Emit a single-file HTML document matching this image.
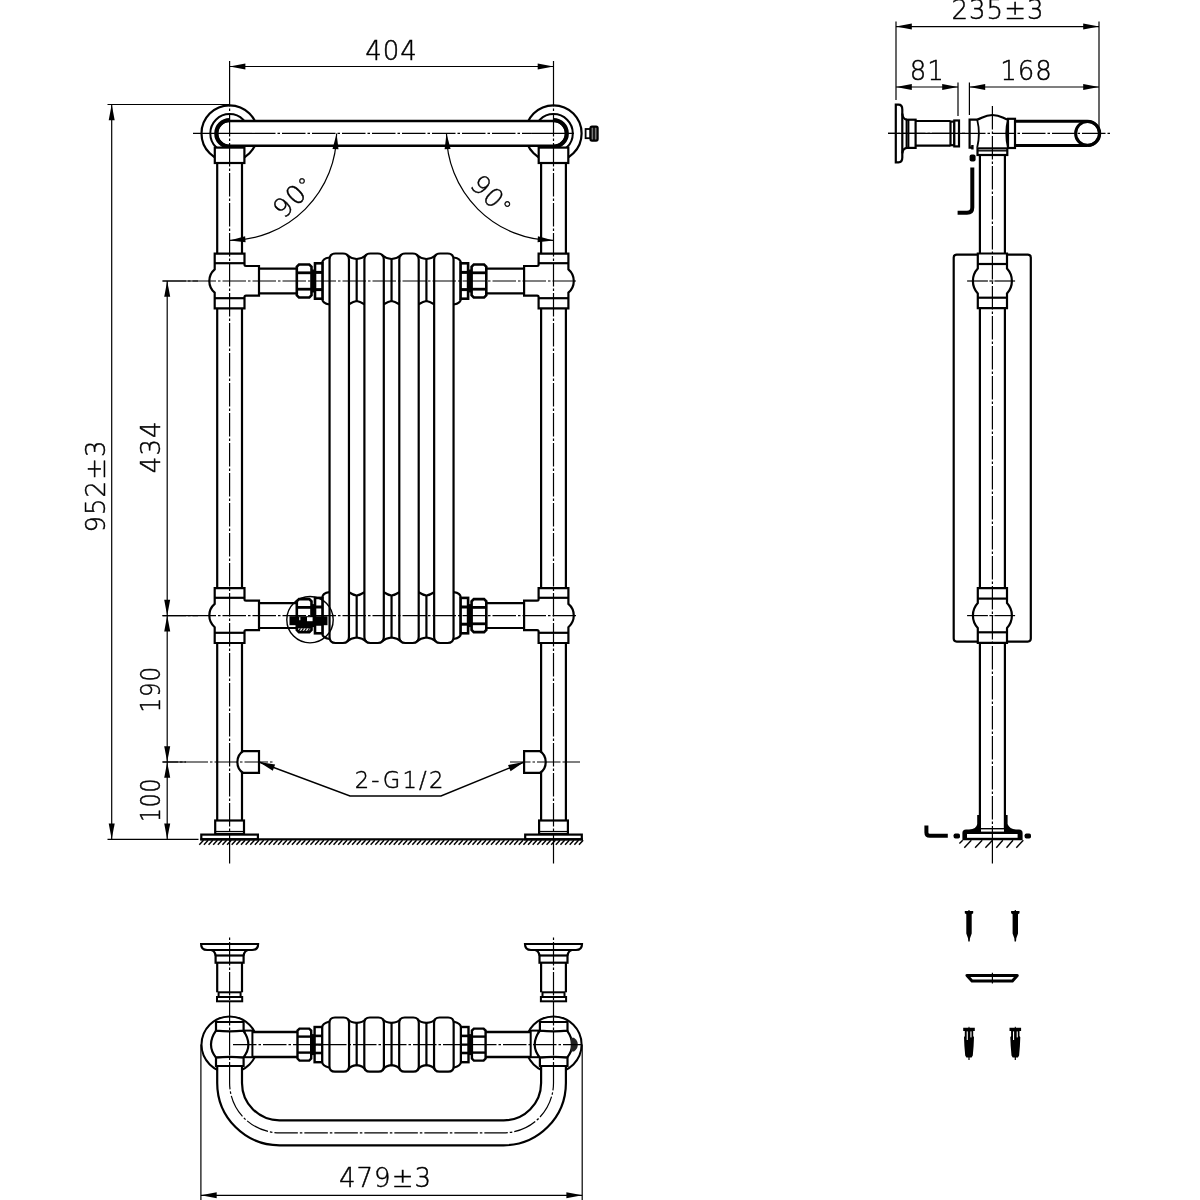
<!DOCTYPE html>
<html lang="en"><head><meta charset="utf-8"><title>Towel radiator technical drawing</title>
<style>
html,body{margin:0;padding:0;background:#fff;}
body{width:1200px;height:1200px;overflow:hidden;}
svg{display:block;will-change:transform;}
svg text{font-family:"DejaVu Sans Light","DejaVu Sans","Liberation Sans",sans-serif;font-weight:200;fill:#000;stroke:#000;stroke-width:0.45px;}
</style></head><body>
<svg width="1200" height="1200" viewBox="0 0 1200 1200" fill="none" stroke="#000" stroke-linecap="butt" stroke-linejoin="miter">
<rect x="0" y="0" width="1200" height="1200" fill="#fff" stroke="none"/>
<circle cx="229.60" cy="133.40" r="28.10" fill="none" stroke-width="2.2" />
<circle cx="229.60" cy="133.40" r="19.30" fill="none" stroke-width="2" />
<circle cx="553.50" cy="133.40" r="28.10" fill="none" stroke-width="2.2" />
<circle cx="553.50" cy="133.40" r="19.30" fill="none" stroke-width="2" />
<path d="M229.6,121.0 L553.5,121.0 A12.4,12.4 0 0 1 553.5,145.8 L229.6,145.8 A12.4,12.4 0 0 1 229.6,121.0 Z" fill="#fff" stroke-width="2.6" />
<path d="M229.6,120.0 A13.4,13.4 0 0 0 229.6,146.8" fill="none" stroke-width="4" />
<path d="M553.5,120.0 A13.4,13.4 0 0 1 553.5,146.8" fill="none" stroke-width="4" />
<rect x="214.80" y="147.60" width="29.60" height="15.40" rx="0" fill="#fff" stroke-width="2.2" />
<line x1="217.20" y1="163.00" x2="217.20" y2="253.60" stroke-width="2.2" />
<line x1="242.00" y1="163.00" x2="242.00" y2="253.60" stroke-width="2.2" />
<line x1="217.20" y1="308.40" x2="217.20" y2="588.20" stroke-width="2.2" />
<line x1="242.00" y1="308.40" x2="242.00" y2="588.20" stroke-width="2.2" />
<line x1="217.20" y1="643.00" x2="217.20" y2="820.50" stroke-width="2.2" />
<line x1="242.00" y1="643.00" x2="242.00" y2="820.50" stroke-width="2.2" />
<path d="M214.7,253.6 L214.7,269.35 A15.3,15.3 0 0 0 214.7,292.65 L214.7,308.4 L244.5,308.4 L244.5,297.0 Q244.5,295.6 246.0,295.6 L259.0,295.6 L259.0,266.0 L246.0,266.0 Q244.5,266.0 244.5,264.6 L244.5,253.6 Z" fill="#fff" stroke-width="2.2" />
<line x1="214.70" y1="263.20" x2="244.50" y2="263.20" stroke-width="2.2" />
<line x1="214.70" y1="298.20" x2="244.50" y2="298.20" stroke-width="2.2" />
<path d="M214.7,588.2 L214.7,603.95 A15.3,15.3 0 0 0 214.7,627.25 L214.7,643.0 L244.5,643.0 L244.5,631.6 Q244.5,630.2 246.0,630.2 L259.0,630.2 L259.0,600.6 L246.0,600.6 Q244.5,600.6 244.5,599.2 L244.5,588.2 Z" fill="#fff" stroke-width="2.2" />
<line x1="214.70" y1="597.80" x2="244.50" y2="597.80" stroke-width="2.2" />
<line x1="214.70" y1="632.80" x2="244.50" y2="632.80" stroke-width="2.2" />
<line x1="259.00" y1="268.60" x2="297.60" y2="268.60" stroke-width="2.2" />
<line x1="259.00" y1="293.40" x2="297.60" y2="293.40" stroke-width="2.2" />
<line x1="259.00" y1="603.20" x2="297.60" y2="603.20" stroke-width="2.2" />
<line x1="259.00" y1="628.00" x2="297.60" y2="628.00" stroke-width="2.2" />
<path d="M259.0,751.2 L243.0,751.2 C235.5,756.0 235.5,768.0 243.0,772.8 L259.0,772.8 Z" fill="#fff" stroke-width="2.2" />
<rect x="215.20" y="820.50" width="28.80" height="13.50" rx="0" fill="#fff" stroke-width="2.2" />
<line x1="215.20" y1="831.50" x2="244.00" y2="831.50" stroke-width="1.2" />
<rect x="201.30" y="834.60" width="56.60" height="4.70" rx="0" fill="#fff" stroke-width="2.2" />
<rect x="538.70" y="147.60" width="29.60" height="15.40" rx="0" fill="#fff" stroke-width="2.2" />
<line x1="541.10" y1="163.00" x2="541.10" y2="253.60" stroke-width="2.2" />
<line x1="565.90" y1="163.00" x2="565.90" y2="253.60" stroke-width="2.2" />
<line x1="541.10" y1="308.40" x2="541.10" y2="588.20" stroke-width="2.2" />
<line x1="565.90" y1="308.40" x2="565.90" y2="588.20" stroke-width="2.2" />
<line x1="541.10" y1="643.00" x2="541.10" y2="820.50" stroke-width="2.2" />
<line x1="565.90" y1="643.00" x2="565.90" y2="820.50" stroke-width="2.2" />
<path d="M568.4,253.6 L568.4,269.35 A15.3,15.3 0 0 1 568.4,292.65 L568.4,308.4 L538.6,308.4 L538.6,297.0 Q538.6,295.6 537.1,295.6 L524.1,295.6 L524.1,266.0 L537.1,266.0 Q538.6,266.0 538.6,264.6 L538.6,253.6 Z" fill="#fff" stroke-width="2.2" />
<line x1="568.40" y1="263.20" x2="538.60" y2="263.20" stroke-width="2.2" />
<line x1="568.40" y1="298.20" x2="538.60" y2="298.20" stroke-width="2.2" />
<path d="M568.4,588.2 L568.4,603.95 A15.3,15.3 0 0 1 568.4,627.25 L568.4,643.0 L538.6,643.0 L538.6,631.6 Q538.6,630.2 537.1,630.2 L524.1,630.2 L524.1,600.6 L537.1,600.6 Q538.6,600.6 538.6,599.2 L538.6,588.2 Z" fill="#fff" stroke-width="2.2" />
<line x1="568.40" y1="597.80" x2="538.60" y2="597.80" stroke-width="2.2" />
<line x1="568.40" y1="632.80" x2="538.60" y2="632.80" stroke-width="2.2" />
<line x1="524.10" y1="268.60" x2="485.50" y2="268.60" stroke-width="2.2" />
<line x1="524.10" y1="293.40" x2="485.50" y2="293.40" stroke-width="2.2" />
<line x1="524.10" y1="603.20" x2="485.50" y2="603.20" stroke-width="2.2" />
<line x1="524.10" y1="628.00" x2="485.50" y2="628.00" stroke-width="2.2" />
<path d="M524.1,751.2 L540.1,751.2 C547.6,756.0 547.6,768.0 540.1,772.8 L524.1,772.8 Z" fill="#fff" stroke-width="2.2" />
<rect x="539.10" y="820.50" width="28.80" height="13.50" rx="0" fill="#fff" stroke-width="2.2" />
<line x1="539.10" y1="831.50" x2="567.90" y2="831.50" stroke-width="1.2" />
<rect x="525.20" y="834.60" width="56.60" height="4.70" rx="0" fill="#fff" stroke-width="2.2" />
<path d="M329.55,257.5 Q322.25,258.5 322.25,263.3 L322.25,298.7 Q322.25,303.5 329.55,304.5" fill="#fff" stroke-width="2.2" />
<path d="M329.55,639.0 Q322.25,638.0 322.25,633.3000000000001 L322.25,597.9 Q322.25,593.1 329.55,592.1" fill="#fff" stroke-width="2.2" />
<path d="M453.55,257.5 Q460.85,258.5 460.85,263.3 L460.85,298.7 Q460.85,303.5 453.55,304.5" fill="#fff" stroke-width="2.2" />
<path d="M453.55,639.0 Q460.85,638.0 460.85,633.3000000000001 L460.85,597.9 Q460.85,593.1 453.55,592.1" fill="#fff" stroke-width="2.2" />
<path d="M346.93,255.0 Q350.93,258.5 356.68,259.0 Q362.43,258.5 366.43,255.0" fill="none" stroke-width="2.2" />
<line x1="356.68" y1="259.00" x2="356.68" y2="301.00" stroke-width="2.2" />
<path d="M348.93,304.3 Q353.68,301.3 356.68,301 Q359.68,301.3 364.43,304.3" fill="none" stroke-width="2.2" />
<path d="M346.93,641.5 Q350.93,638.0 356.68,637.5 Q362.43,638.0 366.43,641.5" fill="none" stroke-width="2.2" />
<line x1="356.68" y1="637.50" x2="356.68" y2="595.50" stroke-width="2.2" />
<path d="M348.93,592.2 Q353.68,595.2 356.68,595.5 Q359.68,595.2 364.43,592.2)" fill="none" stroke-width="2.2" />
<path d="M381.8,255.0 Q385.8,258.5 391.55,259.0 Q397.3,258.5 401.3,255.0" fill="none" stroke-width="2.2" />
<line x1="391.55" y1="259.00" x2="391.55" y2="301.00" stroke-width="2.2" />
<path d="M383.8,304.3 Q388.55,301.3 391.55,301 Q394.55,301.3 399.3,304.3" fill="none" stroke-width="2.2" />
<path d="M381.8,641.5 Q385.8,638.0 391.55,637.5 Q397.3,638.0 401.3,641.5" fill="none" stroke-width="2.2" />
<line x1="391.55" y1="637.50" x2="391.55" y2="595.50" stroke-width="2.2" />
<path d="M383.8,592.2 Q388.55,595.2 391.55,595.5 Q394.55,595.2 399.3,592.2)" fill="none" stroke-width="2.2" />
<path d="M416.67,255.0 Q420.67,258.5 426.42,259.0 Q432.17,258.5 436.17,255.0" fill="none" stroke-width="2.2" />
<line x1="426.42" y1="259.00" x2="426.42" y2="301.00" stroke-width="2.2" />
<path d="M418.67,304.3 Q423.42,301.3 426.42,301 Q429.42,301.3 434.17,304.3" fill="none" stroke-width="2.2" />
<path d="M416.67,641.5 Q420.67,638.0 426.42,637.5 Q432.17,638.0 436.17,641.5" fill="none" stroke-width="2.2" />
<line x1="426.42" y1="637.50" x2="426.42" y2="595.50" stroke-width="2.2" />
<path d="M418.67,592.2 Q423.42,595.2 426.42,595.5 Q429.42,595.2 434.17,592.2)" fill="none" stroke-width="2.2" />
<path d="M329.55,259.5 Q329.55,253.5 335.55,253.5 L342.95,253.5 Q348.95,253.5 348.95,259.5 L348.95,637.0 Q348.95,643.0 342.95,643.0 L335.55,643.0 Q329.55,643.0 329.55,637.0 Z" fill="none" stroke-width="2.2" />
<path d="M364.40000000000003,259.5 Q364.40000000000003,253.5 370.40000000000003,253.5 L377.8,253.5 Q383.8,253.5 383.8,259.5 L383.8,637.0 Q383.8,643.0 377.8,643.0 L370.40000000000003,643.0 Q364.40000000000003,643.0 364.40000000000003,637.0 Z" fill="none" stroke-width="2.2" />
<path d="M399.3,259.5 Q399.3,253.5 405.3,253.5 L412.7,253.5 Q418.7,253.5 418.7,259.5 L418.7,637.0 Q418.7,643.0 412.7,643.0 L405.3,643.0 Q399.3,643.0 399.3,637.0 Z" fill="none" stroke-width="2.2" />
<path d="M434.15000000000003,259.5 Q434.15000000000003,253.5 440.15000000000003,253.5 L447.55,253.5 Q453.55,253.5 453.55,259.5 L453.55,637.0 Q453.55,643.0 447.55,643.0 L440.15000000000003,643.0 Q434.15000000000003,643.0 434.15000000000003,637.0 Z" fill="none" stroke-width="2.2" />
<path d="M299.0,264.5 L309.3,264.5 L311.5,266.7 L311.5,295.3 L309.3,297.5 L299.0,297.5 L296.8,295.3 L296.8,266.7 Z" fill="#fff" stroke-width="2.6" />
<line x1="296.80" y1="272.80" x2="311.50" y2="272.80" stroke-width="2.8" />
<line x1="296.80" y1="289.20" x2="311.50" y2="289.20" stroke-width="2.8" />
<rect x="311.50" y="269.50" width="3.50" height="23" fill="#000" stroke="none"/>
<rect x="315.00" y="263.30" width="7.50" height="35.40" rx="0" fill="#fff" stroke-width="2.6" />
<line x1="315.00" y1="272.40" x2="322.50" y2="272.40" stroke-width="3" />
<line x1="315.00" y1="289.60" x2="322.50" y2="289.60" stroke-width="3" />
<path d="M484.1,264.5 L473.8,264.5 L471.6,266.7 L471.6,295.3 L473.8,297.5 L484.1,297.5 L486.3,295.3 L486.3,266.7 Z" fill="#fff" stroke-width="2.6" />
<line x1="486.30" y1="272.80" x2="471.60" y2="272.80" stroke-width="2.8" />
<line x1="486.30" y1="289.20" x2="471.60" y2="289.20" stroke-width="2.8" />
<rect x="468.10" y="269.50" width="3.50" height="23" fill="#000" stroke="none"/>
<rect x="460.60" y="263.30" width="7.50" height="35.40" rx="0" fill="#fff" stroke-width="2.6" />
<line x1="468.10" y1="272.40" x2="460.60" y2="272.40" stroke-width="3" />
<line x1="468.10" y1="289.60" x2="460.60" y2="289.60" stroke-width="3" />
<path d="M484.1,599.1 L473.8,599.1 L471.6,601.3000000000001 L471.6,629.9 L473.8,632.1 L484.1,632.1 L486.3,629.9 L486.3,601.3000000000001 Z" fill="#fff" stroke-width="2.6" />
<line x1="486.30" y1="607.40" x2="471.60" y2="607.40" stroke-width="2.8" />
<line x1="486.30" y1="623.80" x2="471.60" y2="623.80" stroke-width="2.8" />
<rect x="468.10" y="604.10" width="3.50" height="23" fill="#000" stroke="none"/>
<rect x="460.60" y="597.90" width="7.50" height="35.40" rx="0" fill="#fff" stroke-width="2.6" />
<line x1="468.10" y1="607.00" x2="460.60" y2="607.00" stroke-width="3" />
<line x1="468.10" y1="624.20" x2="460.60" y2="624.20" stroke-width="3" />
<path d="M299.0,599.1 L309.3,599.1 L311.5,601.3000000000001 L311.5,629.9 L309.3,632.1 L299.0,632.1 L296.8,629.9 L296.8,601.3000000000001 Z" fill="#fff" stroke-width="2.6" />
<line x1="296.80" y1="607.40" x2="311.50" y2="607.40" stroke-width="2.8" />
<line x1="296.80" y1="623.80" x2="311.50" y2="623.80" stroke-width="2.8" />
<rect x="311.50" y="604.10" width="3.50" height="23" fill="#000" stroke="none"/>
<rect x="315.00" y="597.90" width="7.50" height="35.40" rx="0" fill="#fff" stroke-width="2.6" />
<line x1="315.00" y1="607.00" x2="322.50" y2="607.00" stroke-width="3" />
<line x1="315.00" y1="624.20" x2="322.50" y2="624.20" stroke-width="3" />
<rect x="289.5" y="616.2" width="38" height="9" fill="#000" stroke="none"/>
<rect x="307" y="617.2" width="5.6" height="4" fill="#fff" stroke="none"/>
<rect x="299" y="617.2" width="1.4" height="3" fill="#ccc" stroke="none"/>
<rect x="297.5" y="625" width="14" height="3.4" fill="#000" stroke="none"/>
<line x1="300.50" y1="628.40" x2="298.30" y2="631.60" stroke-width="1.2" />
<line x1="303.50" y1="628.40" x2="301.30" y2="631.60" stroke-width="1.2" />
<line x1="306.50" y1="628.40" x2="304.30" y2="631.60" stroke-width="1.2" />
<line x1="309.50" y1="628.40" x2="307.30" y2="631.60" stroke-width="1.2" />
<circle cx="310.00" cy="619.70" r="23.20" fill="none" stroke-width="1.4" />
<rect x="585.60" y="129.00" width="4.90" height="9.20" rx="0" fill="#fff" stroke-width="1.8" />
<rect x="590.50" y="126.60" width="7.10" height="14.00" rx="1.5" fill="#777" stroke-width="2.2" />
<line x1="594.00" y1="126.60" x2="594.00" y2="140.60" stroke-width="1.6" />
<line x1="200.40" y1="839.30" x2="582.80" y2="839.30" stroke-width="2.2" />
<line x1="203.50" y1="840.30" x2="199.30" y2="844.70" stroke-width="1.5" />
<line x1="208.13" y1="840.30" x2="203.93" y2="844.70" stroke-width="1.5" />
<line x1="212.76" y1="840.30" x2="208.56" y2="844.70" stroke-width="1.5" />
<line x1="217.39" y1="840.30" x2="213.19" y2="844.70" stroke-width="1.5" />
<line x1="222.02" y1="840.30" x2="217.82" y2="844.70" stroke-width="1.5" />
<line x1="226.65" y1="840.30" x2="222.45" y2="844.70" stroke-width="1.5" />
<line x1="231.28" y1="840.30" x2="227.08" y2="844.70" stroke-width="1.5" />
<line x1="235.91" y1="840.30" x2="231.71" y2="844.70" stroke-width="1.5" />
<line x1="240.54" y1="840.30" x2="236.34" y2="844.70" stroke-width="1.5" />
<line x1="245.17" y1="840.30" x2="240.97" y2="844.70" stroke-width="1.5" />
<line x1="249.80" y1="840.30" x2="245.60" y2="844.70" stroke-width="1.5" />
<line x1="254.43" y1="840.30" x2="250.23" y2="844.70" stroke-width="1.5" />
<line x1="259.06" y1="840.30" x2="254.86" y2="844.70" stroke-width="1.5" />
<line x1="263.69" y1="840.30" x2="259.49" y2="844.70" stroke-width="1.5" />
<line x1="268.32" y1="840.30" x2="264.12" y2="844.70" stroke-width="1.5" />
<line x1="272.95" y1="840.30" x2="268.75" y2="844.70" stroke-width="1.5" />
<line x1="277.58" y1="840.30" x2="273.38" y2="844.70" stroke-width="1.5" />
<line x1="282.21" y1="840.30" x2="278.01" y2="844.70" stroke-width="1.5" />
<line x1="286.84" y1="840.30" x2="282.64" y2="844.70" stroke-width="1.5" />
<line x1="291.47" y1="840.30" x2="287.27" y2="844.70" stroke-width="1.5" />
<line x1="296.10" y1="840.30" x2="291.90" y2="844.70" stroke-width="1.5" />
<line x1="300.73" y1="840.30" x2="296.53" y2="844.70" stroke-width="1.5" />
<line x1="305.36" y1="840.30" x2="301.16" y2="844.70" stroke-width="1.5" />
<line x1="309.99" y1="840.30" x2="305.79" y2="844.70" stroke-width="1.5" />
<line x1="314.62" y1="840.30" x2="310.42" y2="844.70" stroke-width="1.5" />
<line x1="319.25" y1="840.30" x2="315.05" y2="844.70" stroke-width="1.5" />
<line x1="323.88" y1="840.30" x2="319.68" y2="844.70" stroke-width="1.5" />
<line x1="328.51" y1="840.30" x2="324.31" y2="844.70" stroke-width="1.5" />
<line x1="333.14" y1="840.30" x2="328.94" y2="844.70" stroke-width="1.5" />
<line x1="337.77" y1="840.30" x2="333.57" y2="844.70" stroke-width="1.5" />
<line x1="342.40" y1="840.30" x2="338.20" y2="844.70" stroke-width="1.5" />
<line x1="347.03" y1="840.30" x2="342.83" y2="844.70" stroke-width="1.5" />
<line x1="351.66" y1="840.30" x2="347.46" y2="844.70" stroke-width="1.5" />
<line x1="356.29" y1="840.30" x2="352.09" y2="844.70" stroke-width="1.5" />
<line x1="360.92" y1="840.30" x2="356.72" y2="844.70" stroke-width="1.5" />
<line x1="365.55" y1="840.30" x2="361.35" y2="844.70" stroke-width="1.5" />
<line x1="370.18" y1="840.30" x2="365.98" y2="844.70" stroke-width="1.5" />
<line x1="374.81" y1="840.30" x2="370.61" y2="844.70" stroke-width="1.5" />
<line x1="379.44" y1="840.30" x2="375.24" y2="844.70" stroke-width="1.5" />
<line x1="384.07" y1="840.30" x2="379.87" y2="844.70" stroke-width="1.5" />
<line x1="388.70" y1="840.30" x2="384.50" y2="844.70" stroke-width="1.5" />
<line x1="393.33" y1="840.30" x2="389.13" y2="844.70" stroke-width="1.5" />
<line x1="397.96" y1="840.30" x2="393.76" y2="844.70" stroke-width="1.5" />
<line x1="402.59" y1="840.30" x2="398.39" y2="844.70" stroke-width="1.5" />
<line x1="407.22" y1="840.30" x2="403.02" y2="844.70" stroke-width="1.5" />
<line x1="411.85" y1="840.30" x2="407.65" y2="844.70" stroke-width="1.5" />
<line x1="416.48" y1="840.30" x2="412.28" y2="844.70" stroke-width="1.5" />
<line x1="421.11" y1="840.30" x2="416.91" y2="844.70" stroke-width="1.5" />
<line x1="425.74" y1="840.30" x2="421.54" y2="844.70" stroke-width="1.5" />
<line x1="430.37" y1="840.30" x2="426.17" y2="844.70" stroke-width="1.5" />
<line x1="435.00" y1="840.30" x2="430.80" y2="844.70" stroke-width="1.5" />
<line x1="439.63" y1="840.30" x2="435.43" y2="844.70" stroke-width="1.5" />
<line x1="444.26" y1="840.30" x2="440.06" y2="844.70" stroke-width="1.5" />
<line x1="448.89" y1="840.30" x2="444.69" y2="844.70" stroke-width="1.5" />
<line x1="453.52" y1="840.30" x2="449.32" y2="844.70" stroke-width="1.5" />
<line x1="458.15" y1="840.30" x2="453.95" y2="844.70" stroke-width="1.5" />
<line x1="462.78" y1="840.30" x2="458.58" y2="844.70" stroke-width="1.5" />
<line x1="467.41" y1="840.30" x2="463.21" y2="844.70" stroke-width="1.5" />
<line x1="472.04" y1="840.30" x2="467.84" y2="844.70" stroke-width="1.5" />
<line x1="476.67" y1="840.30" x2="472.47" y2="844.70" stroke-width="1.5" />
<line x1="481.30" y1="840.30" x2="477.10" y2="844.70" stroke-width="1.5" />
<line x1="485.93" y1="840.30" x2="481.73" y2="844.70" stroke-width="1.5" />
<line x1="490.56" y1="840.30" x2="486.36" y2="844.70" stroke-width="1.5" />
<line x1="495.19" y1="840.30" x2="490.99" y2="844.70" stroke-width="1.5" />
<line x1="499.82" y1="840.30" x2="495.62" y2="844.70" stroke-width="1.5" />
<line x1="504.45" y1="840.30" x2="500.25" y2="844.70" stroke-width="1.5" />
<line x1="509.08" y1="840.30" x2="504.88" y2="844.70" stroke-width="1.5" />
<line x1="513.71" y1="840.30" x2="509.51" y2="844.70" stroke-width="1.5" />
<line x1="518.34" y1="840.30" x2="514.14" y2="844.70" stroke-width="1.5" />
<line x1="522.97" y1="840.30" x2="518.77" y2="844.70" stroke-width="1.5" />
<line x1="527.60" y1="840.30" x2="523.40" y2="844.70" stroke-width="1.5" />
<line x1="532.23" y1="840.30" x2="528.03" y2="844.70" stroke-width="1.5" />
<line x1="536.86" y1="840.30" x2="532.66" y2="844.70" stroke-width="1.5" />
<line x1="541.49" y1="840.30" x2="537.29" y2="844.70" stroke-width="1.5" />
<line x1="546.12" y1="840.30" x2="541.92" y2="844.70" stroke-width="1.5" />
<line x1="550.75" y1="840.30" x2="546.55" y2="844.70" stroke-width="1.5" />
<line x1="555.38" y1="840.30" x2="551.18" y2="844.70" stroke-width="1.5" />
<line x1="560.01" y1="840.30" x2="555.81" y2="844.70" stroke-width="1.5" />
<line x1="564.64" y1="840.30" x2="560.44" y2="844.70" stroke-width="1.5" />
<line x1="569.27" y1="840.30" x2="565.07" y2="844.70" stroke-width="1.5" />
<line x1="573.90" y1="840.30" x2="569.70" y2="844.70" stroke-width="1.5" />
<line x1="578.53" y1="840.30" x2="574.33" y2="844.70" stroke-width="1.5" />
<line x1="583.16" y1="840.30" x2="578.96" y2="844.70" stroke-width="1.5" />
<line x1="229.60" y1="61.00" x2="229.60" y2="105.00" stroke-width="1.2" />
<line x1="229.60" y1="105.00" x2="229.60" y2="841.00" stroke-width="1.2" stroke-dasharray="23.5 2 2.5 2" stroke-dashoffset="-8"/>
<line x1="229.60" y1="841.00" x2="229.60" y2="863.50" stroke-width="1.2" />
<line x1="553.50" y1="61.00" x2="553.50" y2="105.00" stroke-width="1.2" />
<line x1="553.50" y1="105.00" x2="553.50" y2="841.00" stroke-width="1.2" stroke-dasharray="23.5 2 2.5 2" stroke-dashoffset="-8"/>
<line x1="553.50" y1="841.00" x2="553.50" y2="863.50" stroke-width="1.2" />
<line x1="193.00" y1="133.40" x2="252.00" y2="133.40" stroke-width="1.2" />
<line x1="252.00" y1="133.40" x2="531.10" y2="133.40" stroke-width="1.2" stroke-dasharray="23.5 2 2.5 2" stroke-dashoffset="0"/>
<line x1="531.10" y1="133.40" x2="574.00" y2="133.40" stroke-width="1.2" />
<line x1="162.50" y1="281.00" x2="576.00" y2="281.00" stroke-width="1.2" stroke-dasharray="23.5 2 2.5 2" stroke-dashoffset="0"/>
<line x1="162.50" y1="615.60" x2="576.00" y2="615.60" stroke-width="1.2" stroke-dasharray="23.5 2 2.5 2" stroke-dashoffset="0"/>
<line x1="162.50" y1="281.00" x2="198.00" y2="281.00" stroke-width="1.2" />
<line x1="162.50" y1="615.60" x2="198.00" y2="615.60" stroke-width="1.2" />
<line x1="162.50" y1="762.00" x2="273.00" y2="762.00" stroke-width="1.2" stroke-dasharray="23.5 2 2.5 2" stroke-dashoffset="8"/>
<line x1="162.50" y1="762.00" x2="186.00" y2="762.00" stroke-width="1.2" />
<line x1="510.00" y1="762.00" x2="580.00" y2="762.00" stroke-width="1.2" stroke-dasharray="23.5 2 2.5 2" stroke-dashoffset="3"/>
<line x1="229.60" y1="66.50" x2="553.50" y2="66.50" stroke-width="1.2" />
<polygon points="229.60,66.50 245.40,63.50 245.40,69.50" fill="#000" stroke="none"/>
<polygon points="553.50,66.50 537.70,69.50 537.70,63.50" fill="#000" stroke="none"/>
<text x="391.55" y="59.50" font-size="26" text-anchor="middle" letter-spacing="1.0">404</text>
<line x1="107.50" y1="104.50" x2="229.00" y2="104.50" stroke-width="1.2" />
<line x1="107.50" y1="839.30" x2="198.50" y2="839.30" stroke-width="1.2" />
<line x1="111.70" y1="104.50" x2="111.70" y2="839.30" stroke-width="1.2" />
<polygon points="111.70,104.50 114.70,120.30 108.70,120.30" fill="#000" stroke="none"/>
<polygon points="111.70,839.30 108.70,823.50 114.70,823.50" fill="#000" stroke="none"/>
<text x="105.20" y="486.00" font-size="26" text-anchor="middle" letter-spacing="1.0" transform="rotate(-90 105.20 486.00)">952±3</text>
<line x1="167.20" y1="281.00" x2="167.20" y2="839.30" stroke-width="1.2" />
<polygon points="167.20,281.00 170.20,296.80 164.20,296.80" fill="#000" stroke="none"/>
<polygon points="167.20,615.60 164.20,599.80 170.20,599.80" fill="#000" stroke="none"/>
<polygon points="167.20,615.60 170.20,631.40 164.20,631.40" fill="#000" stroke="none"/>
<polygon points="167.20,762.00 164.20,746.20 170.20,746.20" fill="#000" stroke="none"/>
<polygon points="167.20,762.00 170.20,777.80 164.20,777.80" fill="#000" stroke="none"/>
<polygon points="167.20,839.30 164.20,823.50 170.20,823.50" fill="#000" stroke="none"/>
<text x="160.00" y="446.80" font-size="26" text-anchor="middle" letter-spacing="1.0" transform="rotate(-90 160.00 446.80)">434</text>
<text x="160.00" y="689.30" font-size="26" text-anchor="middle" letter-spacing="1.0" textLength="46.5" lengthAdjust="spacingAndGlyphs" transform="rotate(-90 160.00 689.30)">190</text>
<text x="160.00" y="799.90" font-size="26" text-anchor="middle" letter-spacing="1.0" textLength="44" lengthAdjust="spacingAndGlyphs" transform="rotate(-90 160.00 799.90)">100</text>
<path d="M336.6,133.4 A107,107 0 0 1 229.6,240.4" fill="none" stroke-width="1.2" />
<path d="M446.5,133.4 A107,107 0 0 0 553.5,240.4" fill="none" stroke-width="1.2" />
<polygon points="336.60,133.40 338.49,149.37 332.51,148.95" fill="#000" stroke="none"/>
<polygon points="229.60,240.40 245.15,236.31 245.57,242.29" fill="#000" stroke="none"/>
<polygon points="446.50,133.40 450.59,148.95 444.61,149.37" fill="#000" stroke="none"/>
<polygon points="553.50,240.40 537.53,242.29 537.95,236.31" fill="#000" stroke="none"/>
<text x="283.89" y="219.51" font-size="26" text-anchor="start" letter-spacing="1.0" transform="rotate(-45 283.89 219.51)">90<tspan font-size="20" dy="-2.8">°</tspan></text>
<text x="468.79" y="185.89" font-size="26" text-anchor="start" letter-spacing="1.0" transform="rotate(45 468.79 185.89)">90<tspan font-size="20" dy="-2.8">°</tspan></text>
<path d="M259.0,762.0 L350,796 L441,796 L524.1,762.0" fill="none" stroke-width="1.5" />
<polygon points="259.00,762.00 275.14,764.54 272.81,770.72" fill="#000" stroke="none"/>
<polygon points="524.10,762.00 510.56,771.15 508.05,765.05" fill="#000" stroke="none"/>
<text x="400.20" y="787.50" font-size="22.6" text-anchor="middle" letter-spacing="2.3">2-G1/2</text>
<line x1="896.00" y1="21.50" x2="896.00" y2="100.00" stroke-width="1.2" />
<line x1="1099.00" y1="21.50" x2="1099.00" y2="132.00" stroke-width="1.2" />
<line x1="896.00" y1="26.60" x2="1099.00" y2="26.60" stroke-width="1.2" />
<polygon points="896.00,26.60 911.80,23.60 911.80,29.60" fill="#000" stroke="none"/>
<polygon points="1099.00,26.60 1083.20,29.60 1083.20,23.60" fill="#000" stroke="none"/>
<text x="998.00" y="19.00" font-size="26" text-anchor="middle" letter-spacing="1.0">235±3</text>
<line x1="958.00" y1="82.50" x2="958.00" y2="116.00" stroke-width="1.2" />
<line x1="969.40" y1="82.50" x2="969.40" y2="115.00" stroke-width="1.2" />
<line x1="896.00" y1="87.00" x2="958.00" y2="87.00" stroke-width="1.2" />
<polygon points="896.00,87.00 911.80,84.00 911.80,90.00" fill="#000" stroke="none"/>
<polygon points="958.00,87.00 942.20,90.00 942.20,84.00" fill="#000" stroke="none"/>
<line x1="969.40" y1="87.00" x2="1099.00" y2="87.00" stroke-width="1.2" />
<polygon points="969.40,87.00 985.20,84.00 985.20,90.00" fill="#000" stroke="none"/>
<polygon points="1099.00,87.00 1083.20,90.00 1083.20,84.00" fill="#000" stroke="none"/>
<text x="927.20" y="80.00" font-size="26" text-anchor="middle" letter-spacing="1.0">81</text>
<text x="1026.50" y="80.00" font-size="26" text-anchor="middle" letter-spacing="1.0">168</text>
<path d="M895.8,104.7 L898.5,104.7 Q902.3,104.7 902.3,109.5 L902.3,157.6 Q902.3,162.4 898.5,162.4 L895.8,162.4 Z" fill="#fff" stroke-width="2.2" />
<path d="M902.3,113.5 Q902.8,119 906.7,119.7 M902.3,153.3 Q902.8,148.5 906.7,147.9" fill="none" stroke-width="2.2" />
<rect x="906.70" y="119.70" width="8.90" height="28.20" rx="0" fill="#fff" stroke-width="2.2" />
<line x1="908.70" y1="119.70" x2="908.70" y2="147.90" stroke-width="1.4" />
<line x1="915.60" y1="121.00" x2="950.50" y2="121.00" stroke-width="2.2" />
<line x1="915.60" y1="145.70" x2="950.50" y2="145.70" stroke-width="2.2" />
<rect x="950.50" y="121.60" width="3.80" height="23.60" rx="0" fill="#fff" stroke-width="2.2" />
<rect x="954.30" y="120.50" width="4.70" height="25.90" rx="0" fill="#fff" stroke-width="2.2" />
<path d="M977.2,119.6 L969.6,119.6 L969.6,147.6 L973,147.6" fill="none" stroke-width="2.2" />
<path d="M977.2,119.6 Q980.6,133.5 977.2,147.6" fill="none" stroke-width="1.8" />
<path d="M977.2,119.6 C983,117.5 985,115 992.4,115 C1000,115 1002,117.5 1008,119.6" fill="none" stroke-width="2.2" />
<path d="M1008,119.6 Q1004.4,133.5 1008,147.6" fill="none" stroke-width="1.8" />
<rect x="1008.00" y="118.80" width="7.00" height="29.20" rx="0" fill="#fff" stroke-width="2.2" />
<rect x="977.50" y="148.40" width="29.80" height="6.60" rx="0" fill="#fff" stroke-width="2.2" />
<line x1="977.50" y1="150.80" x2="1007.30" y2="150.80" stroke-width="1.4" />
<line x1="1015.00" y1="121.20" x2="1087.50" y2="121.20" stroke-width="3" />
<line x1="1015.00" y1="145.60" x2="1087.50" y2="145.60" stroke-width="3" />
<circle cx="1087.50" cy="133.40" r="11.90" fill="none" stroke-width="3" />
<path d="M1087.5,121.2 A12.2,12.2 0 0 1 1087.5,145.6" fill="none" stroke-width="3" />
<rect x="969.6" y="154.6" width="6" height="7" rx="2" fill="#000" stroke="none"/>
<rect x="971.2" y="145" width="2.4" height="4.5" fill="#000" stroke="none"/>
<path d="M972.3,167.6 L972.3,207.5 Q972.3,212.8 967,212.8 L957.6,212.8" fill="none" stroke-width="4" />
<line x1="979.90" y1="155.00" x2="979.90" y2="253.60" stroke-width="2.2" />
<line x1="1004.90" y1="155.00" x2="1004.90" y2="253.60" stroke-width="2.2" />
<line x1="979.90" y1="308.40" x2="979.90" y2="588.20" stroke-width="2.2" />
<line x1="1004.90" y1="308.40" x2="1004.90" y2="588.20" stroke-width="2.2" />
<line x1="979.90" y1="643.00" x2="979.90" y2="829.00" stroke-width="2.2" />
<line x1="1004.90" y1="643.00" x2="1004.90" y2="829.00" stroke-width="2.2" />
<rect x="953.70" y="254.60" width="77.10" height="387.00" rx="3" fill="none" stroke-width="2.2" />
<path d="M977.8,253.5 L977.8,268.5 A18.4,18.4 0 0 0 977.8,293.5 L977.8,308.2 L1007.0,308.2 L1007.0,293.5 A18.4,18.4 0 0 0 1007.0,268.5 L1007.0,253.5 Z" fill="#fff" stroke-width="2.2" />
<line x1="977.80" y1="264.00" x2="1007.00" y2="264.00" stroke-width="2.2" />
<line x1="977.80" y1="297.70" x2="1007.00" y2="297.70" stroke-width="2.2" />
<line x1="967.10" y1="281.00" x2="987.90" y2="281.00" stroke-width="1.2" />
<line x1="989.40" y1="281.00" x2="993.40" y2="281.00" stroke-width="1.2" />
<line x1="994.40" y1="281.00" x2="1015.10" y2="281.00" stroke-width="1.2" />
<path d="M977.8,588.1 L977.8,603.1 A18.4,18.4 0 0 0 977.8,628.1 L977.8,642.8000000000001 L1007.0,642.8000000000001 L1007.0,628.1 A18.4,18.4 0 0 0 1007.0,603.1 L1007.0,588.1 Z" fill="#fff" stroke-width="2.2" />
<line x1="977.80" y1="598.60" x2="1007.00" y2="598.60" stroke-width="2.2" />
<line x1="977.80" y1="632.30" x2="1007.00" y2="632.30" stroke-width="2.2" />
<line x1="967.10" y1="615.60" x2="987.90" y2="615.60" stroke-width="1.2" />
<line x1="989.40" y1="615.60" x2="993.40" y2="615.60" stroke-width="1.2" />
<line x1="994.40" y1="615.60" x2="1015.10" y2="615.60" stroke-width="1.2" />
<path d="M977.2,815 L981,815 L981,828 L1004,828 L1004,815 L1007.6,815 L1007.6,824 Q1009.5,829.4 1016,829.4 L1019,829.4 Q1022.6,829.4 1022.6,833 L1022.6,840.3 L962.4,840.3 L962.4,833 Q962.4,829.4 966,829.4 L969,829.4 Q976.5,829.4 977.2,824 Z" fill="#000" stroke="none"/>
<rect x="967" y="834" width="50.6" height="3.8" fill="#fff" stroke="none"/>
<rect x="981" y="829.4" width="23" height="2.2" fill="#fff" stroke="none"/>
<line x1="962.70" y1="840.30" x2="959.40" y2="843.50" stroke-width="1.4" />
<line x1="971.30" y1="840.30" x2="964.30" y2="847.70" stroke-width="1.4" />
<line x1="982.20" y1="840.30" x2="975.10" y2="847.70" stroke-width="1.4" />
<line x1="992.50" y1="840.30" x2="985.40" y2="847.70" stroke-width="1.4" />
<line x1="1002.80" y1="840.30" x2="996.30" y2="847.70" stroke-width="1.4" />
<line x1="1013.00" y1="840.30" x2="1006.50" y2="847.70" stroke-width="1.4" />
<line x1="1023.30" y1="840.30" x2="1016.30" y2="847.70" stroke-width="1.4" />
<path d="M926.4,825.6 L926.4,832.5 Q926.4,835.8 929.8,835.8 L947.8,835.8" fill="none" stroke-width="4" />
<rect x="953.6" y="833.4" width="6.4" height="5.2" rx="1.8" fill="#000" stroke="none"/>
<rect x="1024.6" y="833.4" width="6.4" height="5.2" rx="1.8" fill="#000" stroke="none"/>
<line x1="992.40" y1="106.00" x2="992.40" y2="840.00" stroke-width="1.2" stroke-dasharray="23.5 2 2.5 2" stroke-dashoffset="0"/>
<line x1="992.40" y1="840.00" x2="992.40" y2="863.40" stroke-width="1.2" />
<line x1="888.00" y1="133.40" x2="1112.00" y2="133.40" stroke-width="1.2" stroke-dasharray="23.5 2 2.5 2" stroke-dashoffset="-14"/>
<line x1="888.00" y1="133.40" x2="965.00" y2="133.40" stroke-width="1.2" />
<path d="M964.8,911 L968.4,911 L968.4,910 L969.6,910 L969.6,911 L973.2,911 L973.2,913.2 L971.7,914.2 L971.7,933.5 L970,938.3 L969.7,941.6 L968.3,941.6 L968,938.3 L966.3,933.5 L966.3,914.2 L964.8,913.2 Z" fill="#000" stroke="none"/>
<path d="M963.2,1027.8 L974.8,1027.8 L974.8,1031 L973.2,1031 L973.2,1036 L974,1037.2 L973.6,1046 L972.8,1055.5 L971.6,1057.6 L969.6,1057.6 L969.6,1060 L968.4,1060 L968.4,1057.6 L966.4,1057.6 L965.2,1055.5 L964.4,1046 L964,1037.2 L964.8,1036 L964.8,1031 L963.2,1031 Z" fill="#000" stroke="none"/>
<rect x="968.5" y="1026.8" width="1" height="1.2" fill="#000" stroke="none"/>
<rect x="966.7" y="1031.4" width="1.1" height="8.6" fill="#fff" stroke="none"/>
<rect x="970.4" y="1031.4" width="1.1" height="6" fill="#fff" stroke="none"/>
<path d="M1011.0999999999999,911 L1014.6999999999999,911 L1014.6999999999999,910 L1015.9,910 L1015.9,911 L1019.5,911 L1019.5,913.2 L1018.0,914.2 L1018.0,933.5 L1016.3,938.3 L1016.0,941.6 L1014.5999999999999,941.6 L1014.3,938.3 L1012.5999999999999,933.5 L1012.5999999999999,914.2 L1011.0999999999999,913.2 Z" fill="#000" stroke="none"/>
<path d="M1009.5,1027.8 L1021.0999999999999,1027.8 L1021.0999999999999,1031 L1019.5,1031 L1019.5,1036 L1020.3,1037.2 L1019.9,1046 L1019.0999999999999,1055.5 L1017.9,1057.6 L1015.9,1057.6 L1015.9,1060 L1014.6999999999999,1060 L1014.6999999999999,1057.6 L1012.6999999999999,1057.6 L1011.5,1055.5 L1010.6999999999999,1046 L1010.3,1037.2 L1011.0999999999999,1036 L1011.0999999999999,1031 L1009.5,1031 Z" fill="#000" stroke="none"/>
<rect x="1014.8" y="1026.8" width="1" height="1.2" fill="#000" stroke="none"/>
<rect x="1013.0" y="1031.4" width="1.1" height="8.6" fill="#fff" stroke="none"/>
<rect x="1016.6999999999999" y="1031.4" width="1.1" height="6" fill="#fff" stroke="none"/>
<path d="M967,975.4 L1017.3,975.4 L1012.4,981 L972,981 Z" fill="#fff" stroke-width="3" stroke-linejoin="round"/>
<line x1="992.40" y1="972.80" x2="992.40" y2="983.40" stroke-width="1.2" />
<path d="M201.1,944 L258.1,944 Q258.1,950 252.1,950 L207.1,950 Q201.1,950 201.1,944 Z" fill="#fff" stroke-width="2.2" />
<path d="M211.0,950 Q215.0,951 215.6,955.5 M248.2,950 Q244.2,951 243.6,955.5" fill="none" stroke-width="2.2" />
<rect x="215.60" y="955.50" width="28.00" height="7.20" rx="0" fill="#fff" stroke-width="2.2" />
<line x1="217.20" y1="962.70" x2="217.20" y2="992.30" stroke-width="2.2" />
<line x1="242.00" y1="962.70" x2="242.00" y2="992.30" stroke-width="2.2" />
<rect x="218.60" y="992.30" width="22.00" height="4.70" rx="0" fill="#fff" stroke-width="2" />
<rect x="217.00" y="997.00" width="25.20" height="4.30" rx="0" fill="#fff" stroke-width="2" />
<circle cx="229.60" cy="1044.60" r="28.10" fill="none" stroke-width="2" />
<path d="M525.0,944 L582.0,944 Q582.0,950 576.0,950 L531.0,950 Q525.0,950 525.0,944 Z" fill="#fff" stroke-width="2.2" />
<path d="M534.9,950 Q538.9,951 539.5,955.5 M572.1,950 Q568.1,951 567.5,955.5" fill="none" stroke-width="2.2" />
<rect x="539.50" y="955.50" width="28.00" height="7.20" rx="0" fill="#fff" stroke-width="2.2" />
<line x1="541.10" y1="962.70" x2="541.10" y2="992.30" stroke-width="2.2" />
<line x1="565.90" y1="962.70" x2="565.90" y2="992.30" stroke-width="2.2" />
<rect x="542.50" y="992.30" width="22.00" height="4.70" rx="0" fill="#fff" stroke-width="2" />
<rect x="540.90" y="997.00" width="25.20" height="4.30" rx="0" fill="#fff" stroke-width="2" />
<circle cx="553.50" cy="1044.60" r="28.10" fill="none" stroke-width="2" />
<path d="M217.2,1066 L217.2,1082.9 A62.4,62.4 0 0 0 279.59999999999997,1145.3000000000002 L503.5,1145.3000000000002 A62.4,62.4 0 0 0 565.9,1082.9 L565.9,1066 L541.1,1066 L541.1,1082.9 A37.4,37.4 0 0 1 503.5,1120.3000000000002 L279.59999999999997,1120.3000000000002 A37.4,37.4 0 0 1 242.0,1082.9 L242.0,1066 Z" fill="#fff" stroke-width="0" stroke="none"/>
<path d="M217.2,1066 L217.2,1082.9 A62.4,62.4 0 0 0 279.59999999999997,1145.3000000000002 L503.5,1145.3000000000002 A62.4,62.4 0 0 0 565.9,1082.9 L565.9,1066" fill="none" stroke-width="2.2" />
<path d="M242.0,1066 L242.0,1082.9 A37.4,37.4 0 0 0 279.59999999999997,1120.3000000000002 L503.5,1120.3000000000002 A37.4,37.4 0 0 0 541.1,1082.9 L541.1,1066" fill="none" stroke-width="2.2" />
<path d="M229.6,1066 L229.6,1082.9 A49.9,49.9 0 0 0 279.59999999999997,1132.8000000000002 L503.5,1132.8000000000002 A49.9,49.9 0 0 0 553.5,1082.9 L553.5,1066" fill="none" stroke-width="1.2" stroke-dasharray="23.5 2 2.5 2"/>
<rect x="244.60" y="1032.00" width="53" height="25" fill="#fff" stroke="none"/>
<rect x="244.60" y="1030.60" width="7.80" height="26.60" rx="0" fill="#fff" stroke-width="2" />
<line x1="252.40" y1="1032.00" x2="297.60" y2="1032.00" stroke-width="2.6" />
<line x1="252.40" y1="1057.00" x2="297.60" y2="1057.00" stroke-width="2.6" />
<path d="M216.0,1030.6 Q211.0,1037.6 211.0,1044.6 Q211.0,1051.6 216.0,1057.6 L243.2,1057.6 Q248.4,1051.6 248.4,1044.6 Q248.4,1037.6 243.2,1030.6 Z" fill="#fff" stroke-width="2.2" />
<path d="M216.0,1021.9999999999999 L243.6,1021.9999999999999 L243.6,1030.6 Q229.6,1032.1999999999998 216.0,1030.6 Z" fill="#fff" stroke-width="2.2" />
<path d="M216.0,1066.0 L243.6,1066.0 L243.6,1057.6 Q229.6,1056.0 216.0,1057.6 Z" fill="#fff" stroke-width="2.2" />
<rect x="485.50" y="1032.00" width="53" height="25" fill="#fff" stroke="none"/>
<rect x="530.70" y="1030.60" width="7.80" height="26.60" rx="0" fill="#fff" stroke-width="2" />
<line x1="530.70" y1="1032.00" x2="485.50" y2="1032.00" stroke-width="2.6" />
<line x1="530.70" y1="1057.00" x2="485.50" y2="1057.00" stroke-width="2.6" />
<path d="M567.1,1030.6 Q572.1,1037.6 572.1,1044.6 Q572.1,1051.6 567.1,1057.6 L539.9,1057.6 Q534.7,1051.6 534.7,1044.6 Q534.7,1037.6 539.9,1030.6 Z" fill="#fff" stroke-width="2.2" />
<path d="M539.9,1021.9999999999999 L567.5,1021.9999999999999 L567.5,1030.6 Q553.5,1032.1999999999998 539.9,1030.6 Z" fill="#fff" stroke-width="2.2" />
<path d="M539.9,1066.0 L567.5,1066.0 L567.5,1057.6 Q553.5,1056.0 539.9,1057.6 Z" fill="#fff" stroke-width="2.2" />
<path d="M570.8,1037.8 L574,1037.8 Q577.8,1040.5 577.8,1044.6 Q577.8,1049 574,1051.6 L570.8,1051.6 Z" fill="#222" stroke="none"/>
<path d="M299.5,1028.6 L309.2,1028.6 L311.2,1030.6 L311.2,1058.6 L309.2,1060.6 L299.5,1060.6 L297.5,1058.6 L297.5,1030.6 Z" fill="#fff" stroke-width="2.4" />
<line x1="297.50" y1="1036.60" x2="311.20" y2="1036.60" stroke-width="2.4" />
<line x1="297.50" y1="1052.60" x2="311.20" y2="1052.60" stroke-width="2.4" />
<rect x="311.20" y="1034.10" width="3.40" height="21" fill="#000" stroke="none"/>
<rect x="314.60" y="1027.00" width="7.90" height="35.20" rx="0" fill="#fff" stroke-width="2.4" />
<line x1="314.60" y1="1035.90" x2="322.50" y2="1035.90" stroke-width="2.6" />
<line x1="314.60" y1="1053.00" x2="322.50" y2="1053.00" stroke-width="2.6" />
<line x1="314.60" y1="1044.60" x2="322.50" y2="1044.60" stroke-width="2.2" />
<path d="M483.6,1028.6 L473.9,1028.6 L471.9,1030.6 L471.9,1058.6 L473.9,1060.6 L483.6,1060.6 L485.6,1058.6 L485.6,1030.6 Z" fill="#fff" stroke-width="2.4" />
<line x1="485.60" y1="1036.60" x2="471.90" y2="1036.60" stroke-width="2.4" />
<line x1="485.60" y1="1052.60" x2="471.90" y2="1052.60" stroke-width="2.4" />
<rect x="468.50" y="1034.10" width="3.40" height="21" fill="#000" stroke="none"/>
<rect x="460.60" y="1027.00" width="7.90" height="35.20" rx="0" fill="#fff" stroke-width="2.4" />
<line x1="468.50" y1="1035.90" x2="460.60" y2="1035.90" stroke-width="2.6" />
<line x1="468.50" y1="1053.00" x2="460.60" y2="1053.00" stroke-width="2.6" />
<line x1="468.50" y1="1044.60" x2="460.60" y2="1044.60" stroke-width="2.2" />
<path d="M329.55,1021.5 Q322.25,1023.5 322.25,1027.0 L322.25,1062.1999999999998 Q322.25,1065.7 329.55,1067.7" fill="#fff" stroke-width="2.2" />
<path d="M453.55,1021.5 Q460.85,1023.5 460.85,1027.0 L460.85,1062.1999999999998 Q460.85,1065.7 453.55,1067.7" fill="#fff" stroke-width="2.2" />
<path d="M329.45,1023.0 Q329.45,1017.5 334.95,1017.5 L343.55,1017.5 Q349.05,1017.5 349.05,1023.0 L349.05,1066.2 Q349.05,1071.7 343.55,1071.7 L334.95,1071.7 Q329.45,1071.7 329.45,1066.2 Z" fill="#fff" stroke-width="2.2" />
<path d="M364.3,1023.0 Q364.3,1017.5 369.8,1017.5 L378.40000000000003,1017.5 Q383.90000000000003,1017.5 383.90000000000003,1023.0 L383.90000000000003,1066.2 Q383.90000000000003,1071.7 378.40000000000003,1071.7 L369.8,1071.7 Q364.3,1071.7 364.3,1066.2 Z" fill="#fff" stroke-width="2.2" />
<path d="M399.2,1023.0 Q399.2,1017.5 404.7,1017.5 L413.3,1017.5 Q418.8,1017.5 418.8,1023.0 L418.8,1066.2 Q418.8,1071.7 413.3,1071.7 L404.7,1071.7 Q399.2,1071.7 399.2,1066.2 Z" fill="#fff" stroke-width="2.2" />
<path d="M434.05,1023.0 Q434.05,1017.5 439.55,1017.5 L448.15000000000003,1017.5 Q453.65000000000003,1017.5 453.65000000000003,1023.0 L453.65000000000003,1066.2 Q453.65000000000003,1071.7 448.15000000000003,1071.7 L439.55,1071.7 Q434.05,1071.7 434.05,1066.2 Z" fill="#fff" stroke-width="2.2" />
<path d="M347.73,1019.1 Q350.73,1022.6 356.68,1022.9 Q362.63,1022.6 365.63,1019.1" fill="none" stroke-width="2.2" />
<path d="M347.73,1070.1000000000001 Q350.73,1065.5 356.68,1065.2 Q362.63,1065.5 365.63,1070.1000000000001" fill="none" stroke-width="2.2" />
<line x1="356.68" y1="1022.90" x2="356.68" y2="1065.20" stroke-width="2.2" />
<path d="M382.6,1019.1 Q385.6,1022.6 391.55,1022.9 Q397.5,1022.6 400.5,1019.1" fill="none" stroke-width="2.2" />
<path d="M382.6,1070.1000000000001 Q385.6,1065.5 391.55,1065.2 Q397.5,1065.5 400.5,1070.1000000000001" fill="none" stroke-width="2.2" />
<line x1="391.55" y1="1022.90" x2="391.55" y2="1065.20" stroke-width="2.2" />
<path d="M417.47,1019.1 Q420.47,1022.6 426.42,1022.9 Q432.37,1022.6 435.37,1019.1" fill="none" stroke-width="2.2" />
<path d="M417.47,1070.1000000000001 Q420.47,1065.5 426.42,1065.2 Q432.37,1065.5 435.37,1070.1000000000001" fill="none" stroke-width="2.2" />
<line x1="426.42" y1="1022.90" x2="426.42" y2="1065.20" stroke-width="2.2" />
<line x1="229.60" y1="936.00" x2="229.60" y2="1066.00" stroke-width="1.2" stroke-dasharray="23.5 2 2.5 2" stroke-dashoffset="-6"/>
<line x1="553.50" y1="936.00" x2="553.50" y2="1066.00" stroke-width="1.2" stroke-dasharray="23.5 2 2.5 2" stroke-dashoffset="-6"/>
<line x1="233.00" y1="1044.60" x2="581.00" y2="1044.60" stroke-width="1.2" stroke-dasharray="23.5 2 2.5 2" stroke-dashoffset="0"/>
<line x1="200.90" y1="1044.60" x2="200.90" y2="1200.00" stroke-width="1.2" />
<line x1="582.20" y1="1044.60" x2="582.20" y2="1200.00" stroke-width="1.2" />
<line x1="200.90" y1="1195.30" x2="582.20" y2="1195.30" stroke-width="1.2" />
<polygon points="200.90,1195.30 216.70,1192.30 216.70,1198.30" fill="#000" stroke="none"/>
<polygon points="582.20,1195.30 566.40,1198.30 566.40,1192.30" fill="#000" stroke="none"/>
<text x="385.50" y="1187.30" font-size="26" text-anchor="middle" letter-spacing="1.0">479±3</text>

</svg>
</body></html>
